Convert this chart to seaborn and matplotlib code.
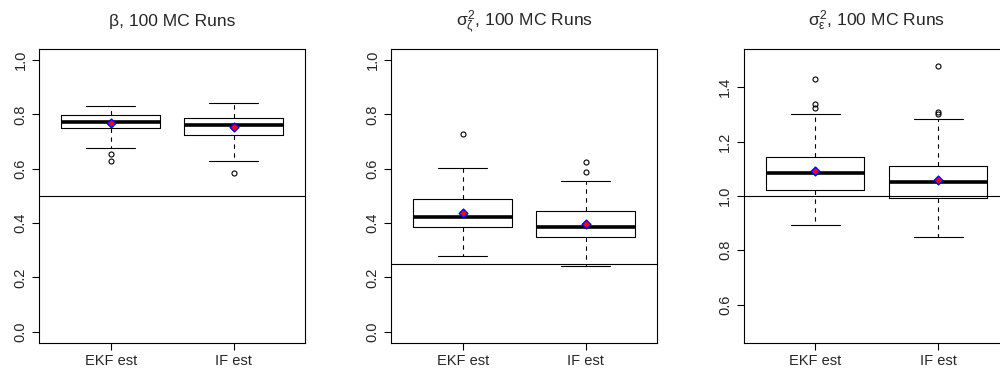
import matplotlib
matplotlib.use("Agg")
import matplotlib.pyplot as plt
import seaborn as sns

sns.set_style("ticks")
plt.rcParams["font.family"] = ["Liberation Sans", "DejaVu Sans"]
plt.rcParams["mathtext.fontset"] = "custom"
plt.rcParams["mathtext.rm"] = "Liberation Sans"
plt.rcParams["mathtext.it"] = "Liberation Sans"
plt.rcParams["mathtext.bf"] = "Liberation Sans:bold"

methods = ["EKF est", "IF est"]

# beta panel
beta_whislo = [0.676, 0.630]
beta_q1 = [0.749, 0.723]
beta_med = [0.771, 0.761]
beta_q3 = [0.798, 0.788]
beta_whishi = [0.832, 0.840]
beta_mean = [0.768, 0.755]
beta_fliers = [[0.654, 0.630], [0.585]]

# sigma^2 zeta panel
zeta_whislo = [0.278, 0.241]
zeta_q1 = [0.385, 0.349]
zeta_med = [0.423, 0.386]
zeta_q3 = [0.489, 0.443]
zeta_whishi = [0.601, 0.556]
zeta_mean = [0.436, 0.397]
zeta_fliers = [[0.726], [0.624, 0.588]]

# sigma^2 epsilon panel
eps_whislo = [0.892, 0.848]
eps_q1 = [1.023, 0.993]
eps_med = [1.086, 1.051]
eps_q3 = [1.144, 1.110]
eps_whishi = [1.301, 1.282]
eps_mean = [1.092, 1.059]
eps_fliers = [[1.430, 1.338, 1.325], [1.477, 1.307, 1.302]]

titles = ["β, 100 MC Runs",
          r"$\sigma^2_\zeta$, 100 MC Runs",
          r"$\sigma^2_\varepsilon$, 100 MC Runs"]
true_values = [0.5, 0.25, 1.0]
ylims = [(0.0, 1.0), (0.0, 1.0), (0.5, 1.5)]
yticks = [[0.0, 0.2, 0.4, 0.6, 0.8, 1.0],
          [0.0, 0.2, 0.4, 0.6, 0.8, 1.0],
          [0.6, 0.8, 1.0, 1.2, 1.4]]

panels = [
    (beta_whislo, beta_q1, beta_med, beta_q3, beta_whishi, beta_mean, beta_fliers),
    (zeta_whislo, zeta_q1, zeta_med, zeta_q3, zeta_whishi, zeta_mean, zeta_fliers),
    (eps_whislo, eps_q1, eps_med, eps_q3, eps_whishi, eps_mean, eps_fliers),
]

fig = plt.figure(figsize=(10, 3.72), dpi=100)
lefts = [0.0393, 0.3913, 0.7438]
width = 0.2657
bottom, top = 0.0788, 0.868

for i, (wlo, q1, med, q3, whi, mean, fl) in enumerate(panels):
    ax = fig.add_axes([lefts[i], bottom, width, top - bottom])
    stats = []
    for j in range(len(methods)):
        stats.append(dict(whislo=wlo[j], q1=q1[j], med=med[j], q3=q3[j],
                          whishi=whi[j], fliers=fl[j], label=methods[j]))
    ax.bxp(stats, positions=[0, 1], widths=0.8, showfliers=True,
           boxprops=dict(color="black", linewidth=0.8),
           medianprops=dict(color="black", linewidth=2.6, solid_capstyle="butt"),
           whiskerprops=dict(color="black", linewidth=0.8, linestyle=(0, (4, 4))),
           capprops=dict(color="black", linewidth=0.8),
           capwidths=0.4,
           flierprops=dict(marker="o", markersize=3.6, markerfacecolor="none",
                           markeredgecolor="black", markeredgewidth=0.8))
    sns.scatterplot(x=[0, 1], y=mean, marker="D", s=20, color="red",
                    edgecolor="blue", linewidth=1.0, ax=ax, zorder=5, legend=False)
    ax.axhline(true_values[i], color="black", linewidth=0.8)

    lo, hi = ylims[i]
    r = hi - lo
    ax.set_ylim(lo - 0.04 * r, hi + 0.04 * r)
    ax.set_xlim(-0.58, 1.58)
    ax.set_yticks(yticks[i])
    ax.set_yticklabels([f"{t:.1f}" for t in yticks[i]], rotation=90, va="center")
    ax.set_xticks([0, 1])
    ax.set_xticklabels(methods)
    ax.tick_params(axis="both", direction="out", length=5, width=0.8,
                   labelsize=10.5, pad=3.5, color="black")
    for s in ax.spines.values():
        s.set_visible(True)
        s.set_color("black")
        s.set_linewidth(0.8)
    ax.set_title(titles[i], fontsize=12.6, pad=16.6)
    ax.set_xlabel("")
    ax.set_ylabel("")

fig.savefig("out.png", dpi=100)
